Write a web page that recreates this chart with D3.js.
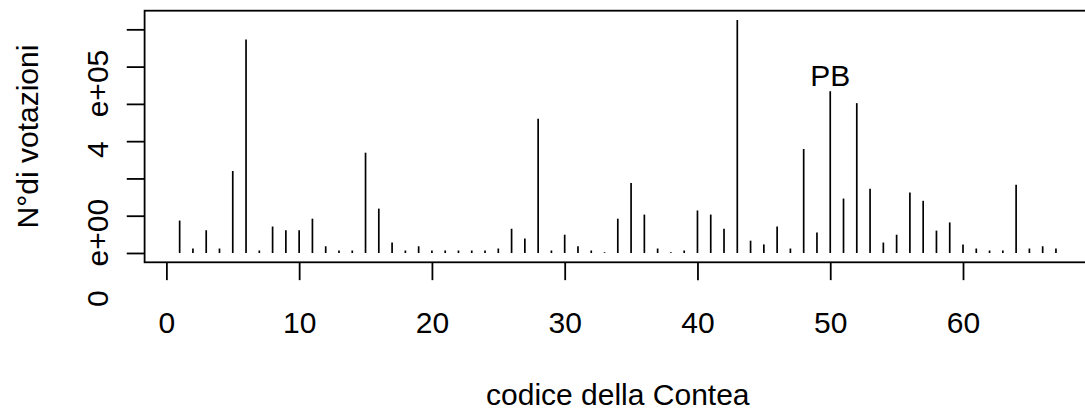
<!DOCTYPE html>
<html>
<head>
<meta charset="utf-8">
<script src="https://cdn.jsdelivr.net/npm/d3@7"></script>
<style>
  html, body { margin: 0; padding: 0; background: #fff; }
  svg { display: block; font-family: "Liberation Sans", Arial, sans-serif; }
</style>
</head>
<body>
<svg id="chart" width="1085" height="410"></svg>
<script>
// County codes 1..67 and number of votes per county
const counties = d3.range(1, 68);
const votes = [
  87000, 12000, 61000, 12000, 220000, 573000, 6700, 71000, 61000, 61000,
  92000, 18000, 6700, 6700, 269000, 119000, 28000, 6700, 18000, 6700,
  6700, 6700, 6700, 6700, 12000, 65000, 39000, 360000, 6700, 49000,
  18000, 6700, 2000, 92000, 188000, 103000, 12000, 2000, 6700, 114000,
  103000, 65000, 625000, 33000, 23000, 71000, 12000, 279000, 55000, 434000,
  146000, 402000, 172000, 28000, 49000, 162000, 140000, 60000, 82000, 23000,
  12000, 6700, 6700, 183000, 12000, 18000, 12000
];
const xTicks = [0, 10, 20, 30, 40, 50, 60];
const yTicks = [0, 100000, 200000, 300000, 400000, 500000, 600000];
// Only non-overlapping y labels are drawn (mantissa, exponent)
const yLabels = [
  { value: 0, mant: "0", exp: "e+00" },
  { value: 400000, mant: "4", exp: "e+05" }
];
const labelCounty = 50;
const labelText = "PB";
const xTitle = "codice della Contea";
const yTitle = "N°di votazioni";

const svg = d3.select("#chart");
const mLeft = 144.6, mTop = 10.7, plotW = 946.4, plotH = 251.6;
const lineH = 35.7;

// 4% padding around the data range, as in R's default axes
const xPad = (d3.max(counties) - d3.min(counties)) * 0.04;
const x = d3.scaleLinear()
  .domain([d3.min(counties) - xPad, d3.max(counties) + xPad])
  .range([mLeft, mLeft + plotW]);
const yPad = d3.max(votes) * 0.04;
const y = d3.scaleLinear()
  .domain([0 - yPad, d3.max(votes) + yPad])
  .range([mTop + plotH, mTop]);

svg.append("rect").attr("width", 1085).attr("height", 410).attr("fill", "#fff");

// vertical lines (type = "h")
svg.append("g").selectAll("line")
  .data(counties)
  .join("line")
  .attr("x1", d => x(d)).attr("x2", d => x(d))
  .attr("y1", y(0)).attr("y2", (d, i) => y(votes[i]))
  .attr("stroke", "#000").attr("stroke-width", 1.7);

// plot frame
svg.append("rect")
  .attr("x", mLeft).attr("y", mTop).attr("width", plotW).attr("height", plotH)
  .attr("fill", "none").attr("stroke", "#000").attr("stroke-width", 1.8);

// x axis
const xAxis = d3.axisBottom(x).tickValues(xTicks).tickSize(lineH / 2).tickSizeOuter(0).tickFormat(d3.format("d"));
const gx = svg.append("g").attr("transform", `translate(0,${mTop + plotH})`).call(xAxis);
gx.select(".domain").remove();
gx.selectAll(".tick line").attr("stroke", "#000").attr("stroke-width", 1.8);
gx.selectAll(".tick text").remove();
gx.selectAll(".tick").append("text")
  .attr("y", lineH * 2 - 0.3)
  .attr("text-anchor", "middle")
  .attr("font-size", 30).attr("fill", "#000")
  .text(d => d);

// y axis
const yAxis = d3.axisLeft(y).tickValues(yTicks).tickSize(lineH / 2).tickSizeOuter(0).tickFormat("");
const gy = svg.append("g").attr("transform", `translate(${mLeft},0)`).call(yAxis);
gy.select(".domain").remove();
gy.selectAll(".tick line").attr("stroke", "#000").attr("stroke-width", 1.8);

const yl = svg.append("g").selectAll("text")
  .data(yLabels)
  .join("text")
  .attr("transform", d => `translate(${mLeft - lineH - 1},${y(d.value)}) rotate(-90)`)
  .attr("text-anchor", "middle")
  .attr("font-size", 30).attr("fill", "#000");
yl.append("tspan").text(d => d.mant);
yl.append("tspan").attr("dx", 24).text(d => d.exp);

// axis titles
svg.append("text")
  .attr("x", mLeft + plotW / 2).attr("y", mTop + plotH + lineH * 4)
  .attr("text-anchor", "middle").attr("font-size", 30).attr("fill", "#000")
  .text(xTitle);
svg.append("text")
  .attr("transform", `translate(${mLeft - lineH * 3},${mTop + plotH / 2}) rotate(-90)`)
  .attr("text-anchor", "middle").attr("font-size", 30).attr("fill", "#000")
  .text(yTitle);

// annotation above county 50
svg.append("text")
  .attr("x", x(labelCounty)).attr("y", y(votes[labelCounty - 1]) - 5)
  .attr("text-anchor", "middle").attr("font-size", 30).attr("fill", "#000")
  .text(labelText);
</script>
</body>
</html>
